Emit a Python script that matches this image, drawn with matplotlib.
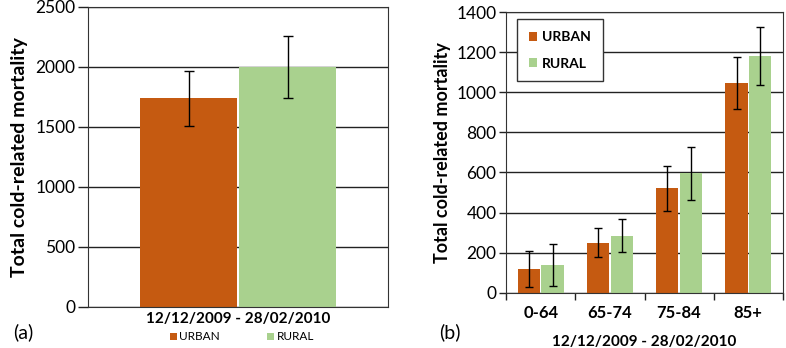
import matplotlib.pyplot as plt
import numpy as np

plt.rcParams["font.family"] = ["Lato", "DejaVu Sans"]

# Panel (a): total over the whole period
total_urban = 1740
total_rural = 2000
total_urban_err = 230
total_rural_err = 260

# Panel (b): by age group
age_groups = ["0-64", "65-74", "75-84", "85+"]
urban = [120, 250, 520, 1045]
rural = [138, 285, 595, 1180]
urban_err = [90, 72, 113, 130]
rural_err = [105, 84, 130, 145]

period = "12/12/2009 - 28/02/2010"
ylabel = "Total cold-related mortality"
URBAN_C = "#C55A11"
RURAL_C = "#A9D18E"
GRID_C = "#222222"

fig = plt.figure(figsize=(7.86, 3.48), dpi=100)

# ---------- (a) ----------
ax = fig.add_axes([0.112, 0.118, 0.382, 0.862])
ekw = dict(elinewidth=1, capthick=1, ecolor="black")
ax.bar(-0.165, total_urban, width=0.325, color=URBAN_C, label="URBAN",
       yerr=total_urban_err, capsize=3.5, error_kw=ekw)
ax.bar(0.165, total_rural, width=0.325, color=RURAL_C, label="RURAL",
       yerr=total_rural_err, capsize=3.5, error_kw=ekw)
ax.set_xlim(-0.5, 0.5)
ax.set_ylim(0, 2500)
ax.set_yticks(np.arange(0, 2501, 500))
ax.yaxis.grid(True, color=GRID_C, linewidth=1)
ax.set_axisbelow(True)
ax.set_xticks([0])
ax.set_xticklabels([period], fontweight="bold", fontsize=11)
ax.tick_params(axis="x", length=0, pad=4)
ax.tick_params(axis="y", length=7, width=1, color=GRID_C, labelsize=12.5, pad=2)
for s in ax.spines.values():
    s.set_color("#333333")
ax.set_ylabel(ylabel, fontweight="bold", fontsize=14, labelpad=5)
ax.legend(loc="center", bbox_to_anchor=(0.513, -0.1), ncol=2, frameon=False,
          fontsize=8.5, handlelength=0.6, handleheight=0.6, handletextpad=0.2,
          columnspacing=4.0, borderpad=0)
fig.text(0.03, 0.045, "(a)", fontsize=14, ha="center", va="center")

# ---------- (b) ----------
bx = fig.add_axes([0.644, 0.159, 0.352, 0.806])
x = np.arange(len(age_groups))
w = 0.32
bx.bar(x - 0.17, urban, width=w, color=URBAN_C, label="URBAN",
       yerr=urban_err, capsize=3, error_kw=ekw)
bx.bar(x + 0.17, rural, width=w, color=RURAL_C, label="RURAL",
       yerr=rural_err, capsize=3, error_kw=ekw)
bx.set_xlim(-0.5, len(age_groups) - 0.5)
bx.set_ylim(0, 1400)
bx.set_yticks(np.arange(0, 1401, 200))
bx.yaxis.grid(True, color=GRID_C, linewidth=1)
bx.set_axisbelow(True)
bx.set_xticks(x)
bx.set_xticklabels(age_groups, fontweight="bold", fontsize=12)
bx.set_xticks(np.arange(-0.5, len(age_groups)), minor=True)
bx.tick_params(axis="x", which="major", length=0, pad=9)
bx.tick_params(axis="x", which="minor", length=5, width=1, color=GRID_C)
bx.tick_params(axis="y", length=5, width=1, color=GRID_C, labelsize=12.5, pad=2)
for s in bx.spines.values():
    s.set_color("#333333")
bx.set_ylabel(ylabel, fontweight="bold", fontsize=13, labelpad=4)
bx.set_xlabel(period, fontweight="bold", fontsize=11, labelpad=10)
leg = bx.legend(loc="upper left", bbox_to_anchor=(0.04, 0.975),
                prop=dict(weight="bold", size=10), fancybox=False,
                handlelength=0.6, handleheight=0.6, handletextpad=0.35,
                labelspacing=1.05, borderpad=0.85, borderaxespad=0)
leg.get_frame().set_edgecolor("#333333")
leg.get_frame().set_linewidth(1)
leg.get_frame().set_alpha(1)
fig.text(0.572, 0.045, "(b)", fontsize=14, ha="center", va="center")

fig.savefig("out.png", dpi=100)
